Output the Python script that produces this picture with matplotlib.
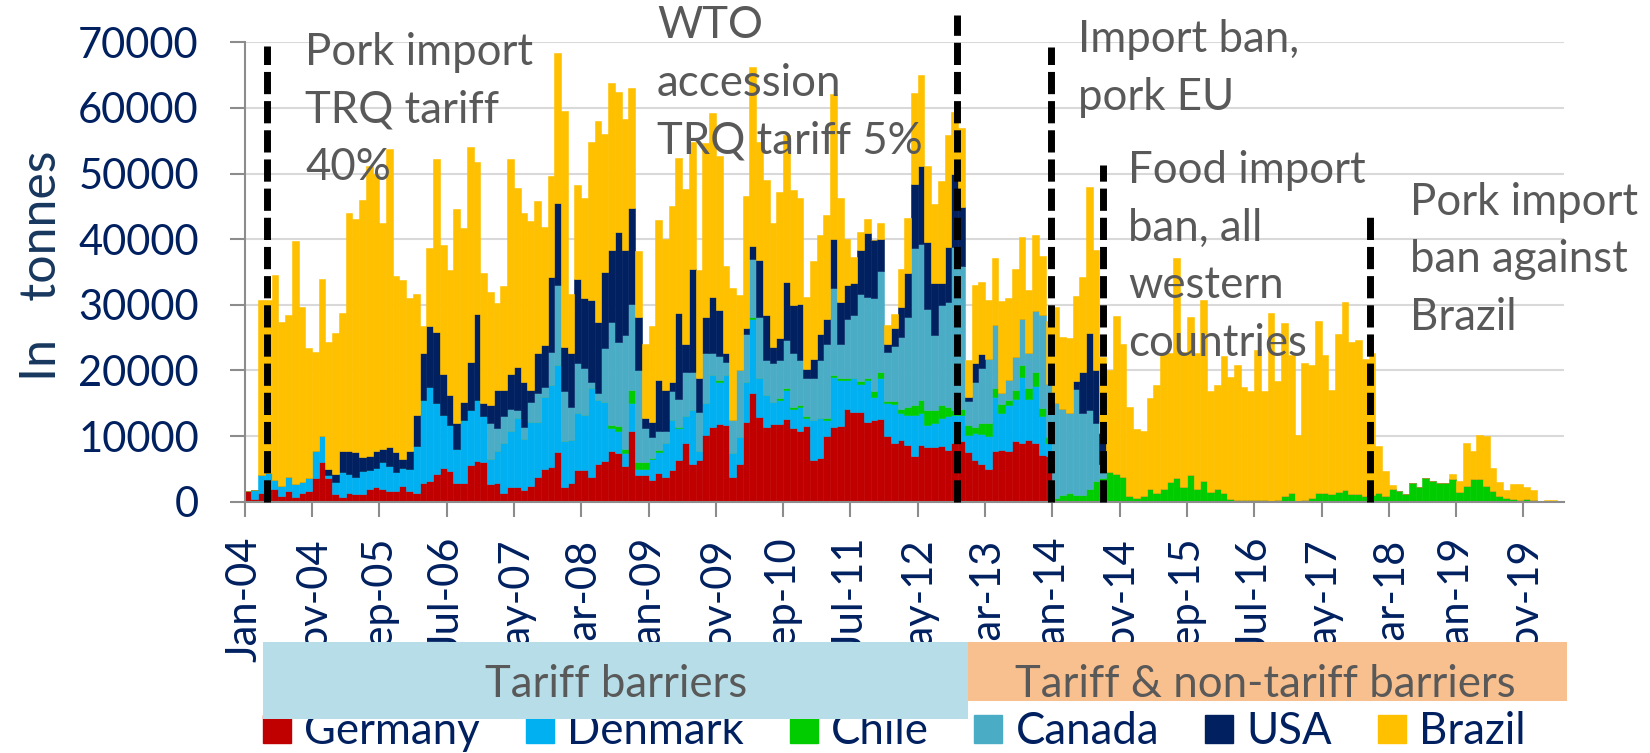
import numpy as np
import pandas as pd
import matplotlib
matplotlib.use("Agg")
import matplotlib.pyplot as plt
from matplotlib.patches import Patch, Rectangle
from matplotlib.transforms import Bbox, TransformedBbox

plt.rcParams['font.family'] = ['Lato', 'DejaVu Sans']

# monthly pork imports, thousand tonnes, Jan-04 .. Apr-20
months = pd.date_range("2004-01-01", periods=196, freq="MS")

germany = [
    1.6, 0.4, 1.4, 1.9, 1.9, 0.9, 1.7, 0.7, 1.4, 1.7, 3.6, 6.1, 3.6, 1.2, 0.7, 1.3, 1.1, 1.1, 1.9, 2.2,
    1.9, 1.7, 1.6, 2.4, 1.7, 1.4, 2.9, 3.2, 4.2, 5.1, 4.7, 2.8, 2.8, 5.6, 6.2, 6.1, 2.7, 2.8, 1.4, 2.3,
    2.2, 1.8, 2.4, 3.7, 5.0, 5.3, 7.6, 2.3, 2.8, 4.9, 4.9, 3.7, 5.7, 6.2, 7.8, 7.4, 5.4, 10.7, 4.1, 4.1,
    3.3, 4.3, 3.8, 4.8, 6.4, 8.9, 5.8, 6.4, 10.2, 11.4, 11.8, 11.7, 3.8, 5.8, 12.2, 16.5, 12.9, 11.4, 11.8, 11.8,
    12.6, 11.2, 10.7, 11.5, 6.4, 6.6, 10.0, 11.4, 11.5, 14.1, 13.7, 13.6, 12.2, 12.5, 12.6, 10.0, 8.9, 9.4, 8.6, 6.9,
    8.6, 8.4, 8.3, 8.5, 7.9, 8.9, 9.2, 7.6, 6.4, 5.8, 5.0, 7.8, 7.9, 7.8, 9.3, 8.9, 9.4, 9.0, 7.1, 6.9,
    0, 0.2, 0, 0, 0, 0, 0, 0, 0, 0, 0, 0, 0, 0, 0, 0, 0, 0, 0, 0,
    0, 0, 0, 0, 0, 0, 0, 0, 0, 0, 0, 0, 0, 0, 0, 0, 0, 0, 0, 0,
    0, 0, 0, 0, 0, 0, 0, 0, 0, 0, 0, 0, 0, 0, 0, 0, 0, 0, 0, 0,
    0, 0, 0, 0, 0, 0, 0, 0, 0, 0, 0, 0, 0, 0, 0, 0,
]
denmark = [
    0, 1.4, 2.7, 2.5, 1.4, 1.5, 2.1, 2.0, 1.6, 1.9, 4.2, 3.9, 0.4, 1.8, 3.8, 2.9, 2.6, 3.6, 2.9, 3.0,
    4.2, 3.8, 2.9, 2.8, 3.3, 7.1, 12.6, 14.3, 10.9, 8.1, 7.0, 5.3, 9.7, 8.4, 9.3, 6.9, 3.8, 5.0, 7.6, 8.5,
    10.5, 7.7, 9.8, 8.5, 11.0, 12.5, 13.2, 7.0, 6.6, 8.6, 8.3, 13.6, 9.8, 9.0, 3.5, 3.3, 2.0, 4.4, 0.9, 0.9,
    3.2, 3.3, 5.2, 7.7, 4.8, 4.1, 8.2, 1.4, 4.8, 7.9, 6.5, 7.6, 3.6, 4.0, 6.1, 11.4, 5.9, 4.9, 3.4, 3.7,
    4.4, 3.0, 3.8, 1.2, 6.1, 6.1, 2.5, 7.6, 7.0, 4.4, 5.1, 4.4, 6.3, 3.4, 6.2, 5.0, 6.0, 4.1, 4.6, 6.3,
    4.9, 3.3, 3.7, 4.2, 5.1, 4.3, 4.0, 2.6, 4.0, 4.5, 5.0, 8.2, 5.6, 6.9, 6.4, 10.1, 6.3, 8.6, 5.9, 2.1,
    0, 0, 0, 0, 0, 0, 0, 0, 0, 0, 0, 0, 0, 0, 0, 0, 0, 0, 0, 0,
    0, 0, 0, 0, 0, 0, 0, 0, 0, 0, 0, 0, 0, 0, 0, 0, 0, 0, 0, 0,
    0, 0, 0, 0, 0, 0, 0, 0, 0, 0, 0, 0, 0, 0, 0, 0, 0, 0, 0, 0,
    0, 0, 0, 0, 0, 0, 0, 0, 0, 0, 0, 0, 0, 0, 0, 0,
]
chile = [
    0, 0, 0, 0, 0, 0, 0, 0, 0, 0, 0, 0, 0, 0, 0, 0, 0, 0, 0, 0,
    0, 0, 0, 0, 0, 0, 0, 0, 0, 0, 0, 0, 0, 0, 0, 0, 0, 0, 0, 0,
    0, 0, 0, 0, 0, 0, 0, 0, 0, 0, 0, 0, 0, 0, 0.4, 0.8, 0.6, 1.9, 1.0, 1.0,
    0.1, 0.3, 0, 0, 0.2, 0, 0, 0, 0, 0, 0.3, 0, 0, 0, 0, 0.2, 0, 0, 0, 0.3,
    0.3, 0.3, 0.3, 0.3, 0, 0, 0.3, 0.3, 0.3, 0.3, 0.1, 0.4, 0.3, 1.0, 1.0, 0.4, 0.5, 0.7, 1.3, 1.5,
    2.0, 2.3, 2.0, 2.0, 1.5, 0.8, 0.9, 1.5, 1.0, 1.7, 2.0, 1.3, 1.4, 0.8, 1.3, 1.8, 1.6, 2.2, 1.3, 0.8,
    0.5, 0.8, 1.3, 1.0, 1.0, 2.0, 3.2, 3.6, 4.5, 4.2, 3.8, 0.8, 0.6, 0.9, 2.0, 1.4, 2.0, 3.0, 3.6, 2.3,
    4.0, 2.0, 3.2, 1.5, 1.9, 1.3, 0.4, 0.2, 0.2, 0.3, 0.2, 0.2, 0.0, 0.3, 0.9, 1.3, 0.1, 0.3, 0.6, 1.3,
    1.3, 1.2, 1.5, 1.8, 1.1, 1.2, 0.8, 1.0, 1.4, 0.8, 1.9, 1.6, 1.2, 2.9, 2.3, 3.6, 3.1, 2.8, 2.8, 3.5,
    1.5, 2.4, 3.5, 3.5, 2.4, 1.7, 0.8, 0.6, 0.4, 0.3, 0.4, 0.2, 0.0, 0.1, 0.1, 0.1,
]
canada = [
    0, 0, 0, 0, 0, 0, 0, 0, 0, 0, 0, 0, 0, 0, 0, 0, 0, 0, 0, 0,
    0, 0, 0, 0, 0, 0, 0, 0, 0, 0, 0, 0, 0, 0, 0, 0, 5.5, 3.4, 4.0, 3.4,
    1.3, 1.9, 3.0, 4.3, 1.5, 5.0, 12.2, 7.5, 5.1, 7.6, 7.1, 1.0, 1.0, 8.2, 15.7, 12.9, 17.4, 13.2, 14.0, 5.2,
    3.3, 2.8, 1.7, 4.3, 4.3, 6.8, 5.8, 5.8, 7.7, 3.4, 3.6, 2.0, 5.0, 10.3, 7.2, 8.9, 9.4, 5.3, 5.9, 5.8,
    7.3, 8.2, 6.8, 5.8, 6.3, 8.9, 11.3, 13.2, 5.3, 9.1, 9.5, 13.3, 12.4, 14.1, 15.4, 7.4, 8.3, 10.9, 13.7, 23.9,
    23.8, 15.3, 11.4, 15.3, 16.0, 24.8, 21.8, 3.7, 6.9, 8.3, 9.8, 9.6, 1.6, 3.0, 5.1, 7.0, 5.4, 9.2, 14.1, 8.2,
    14.5, 13.2, 12.2, 16.1, 12.5, 12.0, 8.8, 2.2, 0, 0, 0, 0, 0, 0, 0, 0, 0, 0, 0, 0,
    0, 0, 0, 0, 0, 0, 0, 0, 0, 0, 0, 0, 0, 0, 0, 0, 0, 0, 0, 0,
    0, 0, 0, 0, 0, 0, 0, 0, 0, 0, 0, 0, 0, 0, 0, 0, 0, 0, 0, 0,
    0, 0, 0, 0, 0, 0, 0, 0, 0, 0, 0, 0, 0, 0, 0, 0,
]
usa = [
    0, 0, 0, 0, 0, 0, 0, 0, 0, 0, 0, 0, 1.0, 1.2, 3.2, 3.5, 3.8, 2.1, 2.2, 2.6,
    1.9, 2.8, 3.0, 1.3, 2.8, 4.7, 7.2, 9.3, 10.8, 6.3, 4.5, 3.9, 2.7, 7.3, 13.1, 2.0, 2.7, 5.8, 4.0, 5.3,
    6.5, 6.9, 1.8, 6.1, 6.4, 11.5, 12.5, 6.8, 8.2, 12.9, 10.7, 12.4, 10.9, 11.6, 10.9, 16.7, 13.0, 14.5, 8.2, 1.5,
    2.3, 7.9, 6.3, 1.5, 13.1, 4.3, 15.6, 5.2, 5.5, 8.5, 7.0, 1.4, 0, 0, 1.0, 1.9, 8.6, 6.8, 2.5, 3.3,
    8.9, 7.3, 8.6, 1.4, 3.0, 3.9, 3.8, 7.6, 6.4, 5.1, 4.9, 6.7, 9.7, 8.8, 4.8, 1.3, 2.7, 4.6, 6.7, 9.8,
    11.8, 10.3, 8.0, 3.4, 8.3, 11.2, 9.0, 0.6, 2.9, 2.2, 0, 0, 0, 0, 0, 0, 0, 0, 0, 0,
    0, 0, 0, 1.3, 6.3, 11.7, 8.0, 4.6, 0, 0, 0, 0, 0, 0, 0, 0, 0, 0, 0, 0,
    0, 0, 0, 0, 0, 0, 0, 0, 0, 0, 0, 0, 0, 0, 0, 0, 0, 0, 0, 0,
    0, 0, 0, 0, 0, 0, 0, 0, 0, 0, 0, 0, 0, 0, 0, 0, 0, 0, 0, 0,
    0, 0, 0, 0, 0, 0, 0, 0, 0, 0, 0, 0, 0, 0, 0, 0,
]
brazil = [
    0, 0, 26.7, 26.4, 31.3, 25.0, 24.6, 37.0, 26.6, 19.8, 15.0, 24.0, 19.4, 21.5, 21.1, 36.3, 35.6, 39.1, 44.1, 42.2,
    34.4, 45.4, 26.9, 27.3, 23.3, 18.4, 4.0, 11.9, 26.3, 19.6, 19.1, 32.6, 26.5, 32.7, 23.1, 19.9, 17.2, 13.3, 15.9, 32.7,
    27.3, 25.7, 25.8, 23.2, 18.0, 15.4, 22.8, 35.9, 8.9, 14.2, 15.2, 24.1, 30.6, 21.0, 25.5, 21.4, 19.9, 18.3, 10.0, 11.4,
    14.5, 24.3, 23.0, 26.7, 23.6, 23.6, 19.4, 16.5, 26.4, 28.0, 23.4, 13.2, 20.2, 11.4, 20.1, 27.4, 18.0, 20.6, 18.9, 22.3,
    22.4, 17.5, 16.0, 11.0, 14.8, 15.1, 15.8, 22.0, 15.7, 7.0, 4.0, 2.7, 2.2, 0, 2.5, 2.8, 2.2, 5.7, 8.3, 13.9,
    13.9, 11.5, 11.9, 15.5, 17.0, 9.4, 12.0, 5.6, 11.8, 11.0, 9.0, 10.2, 14.1, 12.5, 13.4, 12.5, 9.6, 11.6, 9.0, 9.5,
    14.7, 10.9, 11.5, 13.0, 14.4, 22.2, 18.3, 11.6, 15.6, 24.1, 20.3, 13.7, 10.5, 9.8, 13.8, 16.4, 20.6, 19.6, 33.5, 20.5,
    24.2, 20.6, 27.6, 15.3, 15.9, 20.9, 18.6, 20.6, 17.3, 16.6, 22.9, 16.7, 28.7, 18.1, 26.3, 21.0, 10.1, 20.8, 20.2, 26.2,
    21.0, 15.8, 24.1, 28.7, 23.3, 23.4, 21.0, 21.6, 7.1, 3.9, 0.7, 0.1, 0, 0, 0, 0, 0, 0, 0, 0.7,
    1.6, 6.5, 4.3, 6.6, 7.6, 3.5, 2.2, 1.2, 2.3, 2.4, 1.9, 1.6, 0.1, 0.1, 0.1, 0,
]

series_names = ["Germany", "Denmark", "Chile", "Canada", "USA", "Brazil"]
series_colors = ["#C00000", "#00B0F0", "#00CC00", "#4BACC6", "#002060", "#FFC000"]
series_values = [germany, denmark, chile, canada, usa, brazil]

tick_labels = ["Jan-04", "Nov-04", "Sep-05", "Jul-06", "May-07", "Mar-08", "Jan-09",
               "Nov-09", "Sep-10", "Jul-11", "May-12", "Mar-13", "Jan-14", "Nov-14",
               "Sep-15", "Jul-16", "May-17", "Mar-18", "Jan-19", "Nov-19"]

# policy events: month position (between bars) and top of the dashed line
event_x = [2.77, 105.4, 119.3, 127.1, 166.7]
event_top = [69400, 74100, 69300, 51300, 44000]

W, H = 1650, 753
fig = plt.figure(figsize=(W / 100, H / 100), dpi=100)
ax = fig.add_axes([244.7 / W, 1 - 501.7 / H, (1563.8 - 244.7) / W, (501.7 - 42.3) / H])

x = np.arange(len(months))
bottom = np.zeros(len(months))
for vals, col in zip(series_values, series_colors):
    v = np.array(vals) * 1000
    ax.bar(x, v, bottom=bottom, width=1.0, color=col, edgecolor=col, linewidth=0.4, zorder=2)
    bottom += v

for ex, et in zip(event_x, event_top):
    ax.plot([ex, ex], [0, et], color="black", lw=5, ls=(0, (3.2, 1.0)), clip_on=False, zorder=5)

ax.set_xlim(-0.5, len(months) - 0.5)
ax.set_ylim(0, 70000)
ax.set_yticks(range(0, 70001, 10000))
ax.set_yticklabels([str(v) for v in range(0, 70001, 10000)])
ax.set_xticks([i - 0.5 for i in range(0, len(months), 10)])
ax.set_xticklabels(tick_labels, rotation=90)
ax.yaxis.grid(True, color="#D9D9D9", lw=1.5, zorder=0)
ax.set_axisbelow(True)
for s in ["top", "right"]:
    ax.spines[s].set_visible(False)
for s in ["left", "bottom"]:
    ax.spines[s].set_color("#8C8C8C")
    ax.spines[s].set_linewidth(1.5)
ax.tick_params(axis="y", length=11, width=1.5, color="#8C8C8C", labelsize=30,
               labelcolor="#002060", pad=22)
ax.tick_params(axis="x", length=11, width=1.5, color="#8C8C8C", labelsize=30,
               labelcolor="#002060", pad=14)

# the barrier boxes hide the lower part of the rotated month labels
# (the first label sits left of the boxes and stays whole)
clip = TransformedBbox(Bbox.from_extents(0, 1 - 642 / H, 1, 1), fig.transFigure)
for t in ax.xaxis.get_major_ticks()[1:]:
    t.label1.set_clip_box(clip)
    t.label1.set_clip_on(True)

fig.text(42 / W, 1 - 266 / H, "In   tonnes", rotation=90, fontsize=36,
         color="#17375E", ha="center", va="center")

# annotations: (left x px, first baseline px, lines)
notes = [
    (305, 65, ["Pork import", "TRQ tariff", "40%"]),
    (657, 38, ["WTO", "accession", "TRQ tariff 5%"]),
    (1078, 52, ["Import ban,", "pork EU"]),
    (1128, 183, ["Food import", "ban, all", "western", "countries"]),
    (1410, 215, ["Pork import", "ban against", "Brazil"]),
]
for nx, ny, lines in notes:
    for k, line in enumerate(lines):
        fig.text(nx / W, 1 - (ny + 57.5 * k) / H, line, fontsize=31.5, color="#595959",
                 ha="left", va="baseline", zorder=6)

handles = [Patch(facecolor=c, edgecolor=c) for c in series_colors]
ax.legend(handles, series_names, ncol=6, loc="center left",
          bbox_to_anchor=(263 / W, 21 / H), bbox_transform=fig.transFigure,
          frameon=False, fontsize=31.5, handlelength=0.64, handleheight=0.6,
          handletextpad=0.3, columnspacing=1.05, borderpad=0, borderaxespad=0,
          labelcolor="#002060")

fig.add_artist(Rectangle((263 / W, 1 - 719 / H), (968 - 263) / W, (719 - 642) / H,
                         transform=fig.transFigure, facecolor="#B7DEE8", edgecolor="none", zorder=3))
fig.add_artist(Rectangle((968 / W, 1 - 700.7 / H), (1567 - 968) / W, (700.7 - 642) / H,
                         transform=fig.transFigure, facecolor="#F9C08F", edgecolor="none", zorder=3))
fig.text(616 / W, 1 - 697 / H, "Tariff barriers", fontsize=31.5, color="#595959",
         ha="center", va="baseline", zorder=4)
fig.text(1265 / W, 1 - 697 / H, "Tariff & non-tariff barriers", fontsize=31.5, color="#595959",
         ha="center", va="baseline", zorder=4)

fig.savefig("out.png", dpi=100)
plt.close(fig)
